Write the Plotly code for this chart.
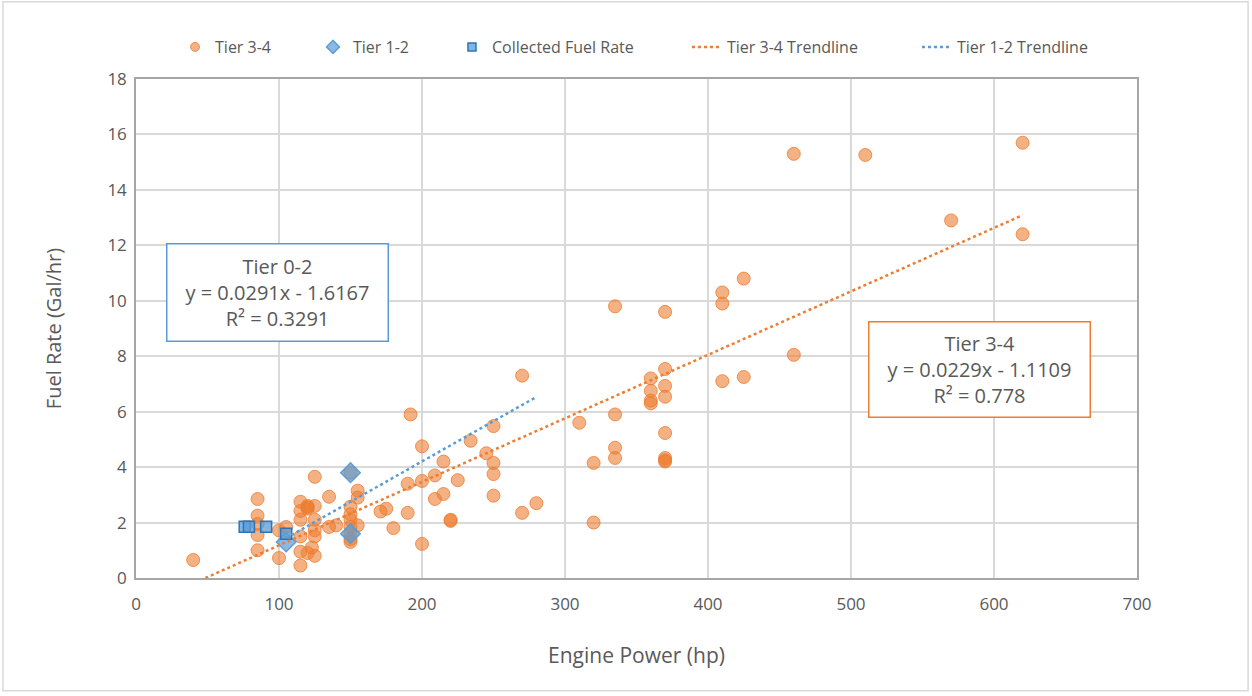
import plotly.graph_objects as go

# ---------------- data ----------------
tier34_hp = [40, 85, 85, 85, 85, 85, 100, 100, 105,
             115, 115, 115, 115, 115, 115, 120, 120, 120, 120, 123,
             125, 125, 125, 125, 125, 125, 135, 135, 140,
             150, 150, 150, 150, 150, 150, 150, 150, 155, 155, 155,
             171, 175, 180, 190, 190, 192, 200, 200, 200,
             209, 209, 215, 215, 220, 220, 225, 234, 245,
             250, 250, 250, 250, 270, 270, 280, 310, 320, 320,
             335, 335, 335, 335, 360, 360, 360, 360,
             370, 370, 370, 370, 370, 370, 370, 370,
             410, 410, 410, 425, 425, 460, 460, 510, 570, 620, 620]
tier34_fuel = [0.65, 2.85, 2.25, 1.95, 1.55, 1.0, 1.72, 0.72, 1.84,
               2.75, 2.42, 2.1, 1.5, 0.95, 0.45, 2.5, 2.55, 2.6, 0.9, 1.1,
               3.65, 2.6, 2.1, 1.72, 1.5, 0.8, 2.93, 1.84, 1.9,
               2.57, 2.3, 2.1, 1.85, 1.3, 1.4, 3.8, 1.6, 3.15, 2.9, 1.9,
               2.4, 2.5, 1.8, 2.35, 3.4, 5.9, 4.75, 3.5, 1.23,
               3.7, 2.85, 4.2, 3.03, 2.06, 2.1, 3.53, 4.95, 4.5,
               5.48, 4.15, 3.75, 2.97, 7.3, 2.35, 2.7, 5.6, 4.15, 2.0,
               9.8, 5.9, 4.7, 4.33, 7.2, 6.75, 6.4, 6.3,
               9.6, 7.54, 6.93, 6.54, 5.23, 4.33, 4.2, 4.25,
               10.3, 9.9, 7.1, 10.8, 7.25, 15.3, 8.05, 15.26, 12.9, 15.7, 12.4]

tier12_hp = [105, 150, 150]
tier12_fuel = [1.3, 3.8, 1.6]

collected_hp = [76, 79, 91, 105]
collected_fuel = [1.85, 1.85, 1.85, 1.6]

# trendline equations (from chart labels) and their plotted ranges
t34_slope, t34_intercept = 0.0229, -1.1109
t34_range = [48.5, 620]
t12_slope, t12_intercept = 0.0291, -1.6167
t12_range = [105, 280]

x_ticks = [0, 100, 200, 300, 400, 500, 600, 700]
y_ticks = [0, 2, 4, 6, 8, 10, 12, 14, 16, 18]

# ---------------- figure ----------------
ORANGE = "#ED7D31"
BLUE = "#5B9BD5"
GRAY_TXT = "#595959"
FONT = "Open Sans"

fig = go.Figure()

circle_style = dict(color="rgba(237,125,49,0.6)", line=dict(color="rgba(237,125,49,0.8)", width=1))
diamond_style = dict(color="rgba(91,155,213,0.7)", line=dict(color="rgba(91,155,213,0.95)", width=1.5))
square_style = dict(color="rgba(91,155,213,0.75)", line=dict(color="#2E75B6", width=1.5))

fig.add_trace(go.Scatter(
    x=tier34_hp, y=tier34_fuel, mode="markers", name="Tier 3-4", showlegend=False,
    marker=dict(symbol="circle", size=13, **circle_style)))

fig.add_trace(go.Scatter(
    x=tier12_hp, y=tier12_fuel, mode="markers", name="Tier 1-2", showlegend=False,
    marker=dict(symbol="diamond", size=15, **diamond_style)))

fig.add_trace(go.Scatter(
    x=collected_hp, y=collected_fuel, mode="markers", name="Collected Fuel Rate", showlegend=False,
    marker=dict(symbol="square", size=11, **square_style)))

t34_y = [t34_slope * x + t34_intercept for x in t34_range]
fig.add_trace(go.Scatter(
    x=t34_range, y=t34_y, mode="lines", name="Tier 3-4 Trendline", showlegend=False,
    line=dict(color=ORANGE, width=2.5, dash="dot")))

t12_y = [t12_slope * x + t12_intercept for x in t12_range]
fig.add_trace(go.Scatter(
    x=t12_range, y=t12_y, mode="lines", name="Tier 1-2 Trendline", showlegend=False,
    line=dict(color=BLUE, width=2.5, dash="dot")))

# legend entries (one legend each so they can be spaced like the original)
legend_entries = [
    ("Tier 3-4", dict(mode="markers", marker=dict(symbol="circle", size=9, **circle_style))),
    ("Tier 1-2", dict(mode="markers", marker=dict(symbol="diamond", size=10, **diamond_style))),
    ("Collected Fuel Rate", dict(mode="markers", marker=dict(symbol="square", size=8, **square_style))),
    ("Tier 3-4 Trendline", dict(mode="lines", line=dict(color=ORANGE, width=2.5, dash="dot"))),
    ("Tier 1-2 Trendline", dict(mode="lines", line=dict(color=BLUE, width=2.5, dash="dot"))),
]
legend_x = [0.1398, 0.250, 0.361, 0.5487, 0.7324]
for i, (name, style) in enumerate(legend_entries):
    lg = "legend" if i == 0 else f"legend{i + 1}"
    fig.add_trace(go.Scatter(x=[None], y=[None], name=name, legend=lg, showlegend=True, **style))
    fig.update_layout({lg: dict(
        orientation="h", xref="container", yref="container",
        x=legend_x[i], xanchor="left", y=1 - 47 / 696, yanchor="middle",
        font=dict(family=FONT, size=16, color=GRAY_TXT),
        bgcolor="rgba(0,0,0,0)", borderwidth=0)})

axis_common = dict(
    showgrid=True, gridcolor="#D9D9D9", gridwidth=1.5,
    zeroline=False, showline=True, linecolor="#A6A6A6", linewidth=1.5,
    mirror=True, ticks="", tickfont=dict(family=FONT, size=17, color=GRAY_TXT),
)

fig.update_layout(
    width=1252, height=696,
    margin=dict(l=136, r=115, t=79, b=118, autoexpand=False),
    paper_bgcolor="white", plot_bgcolor="white",
    font=dict(family=FONT, color=GRAY_TXT),
    showlegend=True,
    xaxis=dict(range=[0, 700], tickvals=x_ticks, ticklabelstandoff=10, automargin=False, **axis_common,
               title=dict(text="Engine Power (hp)", font=dict(family=FONT, size=21, color=GRAY_TXT),
                          standoff=34)),
    yaxis=dict(range=[0, 18], tickvals=y_ticks, ticklabelstandoff=4, automargin=False, **axis_common,
               title=dict(text="Fuel Rate (Gal/hr)", font=dict(family=FONT, size=20, color=GRAY_TXT),
                          standoff=40)),
)

fig.add_annotation(
    xref="paper", yref="paper", x=0.1414, y=0.5726, xanchor="center", yanchor="middle",
    text="Tier 0-2<br>y = 0.0291x - 1.6167<br>R² = 0.3291", showarrow=False,
    align="center", font=dict(family=FONT, size=20, color=GRAY_TXT),
    bordercolor=BLUE, borderwidth=1.5, borderpad=3, bgcolor="white",
    width=214, height=90)

fig.add_annotation(
    xref="paper", yref="paper", x=0.843, y=0.418, xanchor="center", yanchor="middle",
    text="Tier 3-4<br>y = 0.0229x - 1.1109<br>R² = 0.778", showarrow=False,
    align="center", font=dict(family=FONT, size=20, color=GRAY_TXT),
    bordercolor=ORANGE, borderwidth=1.5, borderpad=3, bgcolor="white",
    width=214, height=88)

# outer chart frame
fig.add_shape(type="rect", xref="paper", yref="paper",
              x0=-0.1329, x1=1.111, y0=-0.226, y1=1.155,
              line=dict(color="#D9D9D9", width=1.5), layer="below")

fig.write_html("out.html", config={"displayModeBar": False},
               post_script="document.body.style.margin='0';")
